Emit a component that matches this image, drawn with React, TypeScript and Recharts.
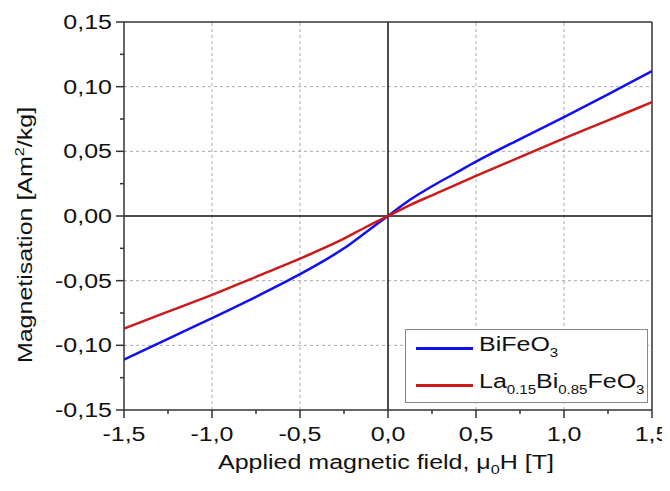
import { LineChart, Line, XAxis, YAxis, ReferenceLine } from "recharts";

const fieldValues = [-1.5, -1.25, -1.0, -0.75, -0.5, -0.375, -0.25, -0.125, 0, 0.125, 0.25, 0.375, 0.5, 0.75, 1.0, 1.25, 1.5];
const bfoValues = [-0.111, -0.095, -0.079, -0.0625, -0.045, -0.0355, -0.025, -0.0125, 0, 0.0125, 0.023, 0.0325, 0.042, 0.0595, 0.0765, 0.094, 0.112];
const lbfoValues = [-0.087, -0.074, -0.061, -0.047, -0.033, -0.0255, -0.0175, -0.0085, 0, 0.0085, 0.016, 0.0235, 0.031, 0.0455, 0.060, 0.074, 0.088];

const xTicks = [-1.5, -1.25, -1.0, -0.75, -0.5, -0.25, 0, 0.25, 0.5, 0.75, 1.0, 1.25, 1.5];
const yTicks = [-0.15, -0.125, -0.1, -0.075, -0.05, -0.025, 0, 0.025, 0.05, 0.075, 0.1, 0.125, 0.15];
const xGrid = [-1.0, -0.5, 0.5, 1.0];
const yGrid = [-0.1, -0.05, 0.05, 0.1];

const data = fieldValues.map((h, i) => ({ h, bfo: bfoValues[i], lbfo: lbfoValues[i] }));

const FONT = "'Liberation Sans', Arial, sans-serif";
const AXIS = "#333";
const BLUE = "#1010f0";
const RED = "#cc1a1a";
const SX = 1.25; // the reference's lettering is stretched along the text

const isMajor = (v: number, step: number) => Math.abs(v / step - Math.round(v / step)) < 1e-6;
const fmt = (v: number, d: number) => v.toFixed(d).replace(".", ",");

function XTick({ x, y, payload }: any) {
  const major = isMajor(payload.value, 0.5);
  return (
    <g>
      <line x1={x} x2={x} y1={y} y2={y + (major ? 8 : 4)} stroke={AXIS} strokeWidth={1.5} />
      {major && (
        <text
          transform={`translate(${x},${y + 31}) scale(${SX},1)`}
          textAnchor="middle"
          fontSize={20}
          fontFamily={FONT}
          fill="#111"
        >
          {fmt(payload.value, 1)}
        </text>
      )}
    </g>
  );
}

function YTick({ x, y, payload }: any) {
  const major = isMajor(payload.value, 0.05);
  return (
    <g>
      <line x1={x - (major ? 8 : 4)} x2={x} y1={y} y2={y} stroke={AXIS} strokeWidth={1.5} />
      {major && (
        <text
          transform={`translate(${x - 12},${y + 7}) scale(${SX},1)`}
          textAnchor="end"
          fontSize={20}
          fontFamily={FONT}
          fill="#111"
        >
          {fmt(payload.value, 2)}
        </text>
      )}
    </g>
  );
}

function LegendBox() {
  const sub = (t: string) => <sub style={{ fontSize: 12, verticalAlign: "-6px" }}>{t}</sub>;
  const row = (color: string, label: any) => (
    <div style={{ display: "flex", alignItems: "center", height: 37 }}>
      <div style={{ width: 57, height: 2.5, background: color, marginLeft: 10, marginRight: 6 }} />
      <span
        style={{
          fontSize: 20,
          fontFamily: FONT,
          color: "#111",
          display: "inline-block",
          transform: `scale(${SX},1)`,
          transformOrigin: "left center",
          whiteSpace: "nowrap",
          lineHeight: "20px",
        }}
      >
        {label}
      </span>
    </div>
  );
  return (
    <div
      style={{
        position: "absolute",
        left: 397,
        top: 321,
        width: 241,
        height: 72,
        border: "1px solid #888",
        background: "#fff",
        boxSizing: "content-box",
      }}
    >
      {row(BLUE, <>BiFeO{sub("3")}</>)}
      {row(RED, <>La{sub("0.15")}Bi{sub("0.85")}FeO{sub("3")}</>)}
    </div>
  );
}

export default function App() {
  return (
    <div style={{ position: "relative", width: 662, height: 483 }}>
      <LineChart width={662} height={483} data={data} margin={{ top: 14, right: 18, bottom: 41, left: 56 }}>
        <XAxis
          dataKey="h"
          type="number"
          domain={[-1.5, 1.5]}
          ticks={xTicks}
          interval={0}
          tickSize={0}
          tickMargin={0}
          height={40}
          stroke={AXIS}
          strokeWidth={1.5}
          tick={<XTick />}
          allowDataOverflow
        />
        <YAxis
          type="number"
          domain={[-0.15, 0.15]}
          ticks={yTicks}
          interval={0}
          tickSize={0}
          tickMargin={0}
          width={60}
          stroke={AXIS}
          strokeWidth={1.5}
          tick={<YTick />}
          allowDataOverflow
        />
        {xGrid.map((v) => (
          <ReferenceLine key={"x" + v} x={v} stroke="#aaa" strokeDasharray="3 3" />
        ))}
        {yGrid.map((v) => (
          <ReferenceLine key={"y" + v} y={v} stroke="#aaa" strokeDasharray="3 3" />
        ))}
        <ReferenceLine x={0} stroke="#111" strokeWidth={1.5} />
        <ReferenceLine y={0} stroke="#111" strokeWidth={1.5} />
        <ReferenceLine x={1.5} stroke={AXIS} strokeWidth={1.5} />
        <ReferenceLine y={0.15} stroke={AXIS} strokeWidth={1.5} />
        <Line dataKey="bfo" type="monotone" stroke={BLUE} strokeWidth={2.5} dot={false} isAnimationActive={false} />
        <Line dataKey="lbfo" type="monotone" stroke={RED} strokeWidth={2.5} dot={false} isAnimationActive={false} />
        <text
          transform={`translate(378,461) scale(${SX},1)`}
          textAnchor="middle"
          fontSize={20}
          fontFamily={FONT}
          fill="#111"
        >
          Applied magnetic field, μ
          <tspan fontSize={13} dy={5}>0</tspan>
          <tspan dy={-5}>H [T]</tspan>
        </text>
        <text
          transform={`translate(24,227) rotate(-90) scale(${SX},1)`}
          textAnchor="middle"
          fontSize={20}
          fontFamily={FONT}
          fill="#111"
        >
          Magnetisation [Am
          <tspan fontSize={13} dy={-8}>2</tspan>
          <tspan dy={8}>/kg]</tspan>
        </text>
      </LineChart>
      <LegendBox />
    </div>
  );
}
